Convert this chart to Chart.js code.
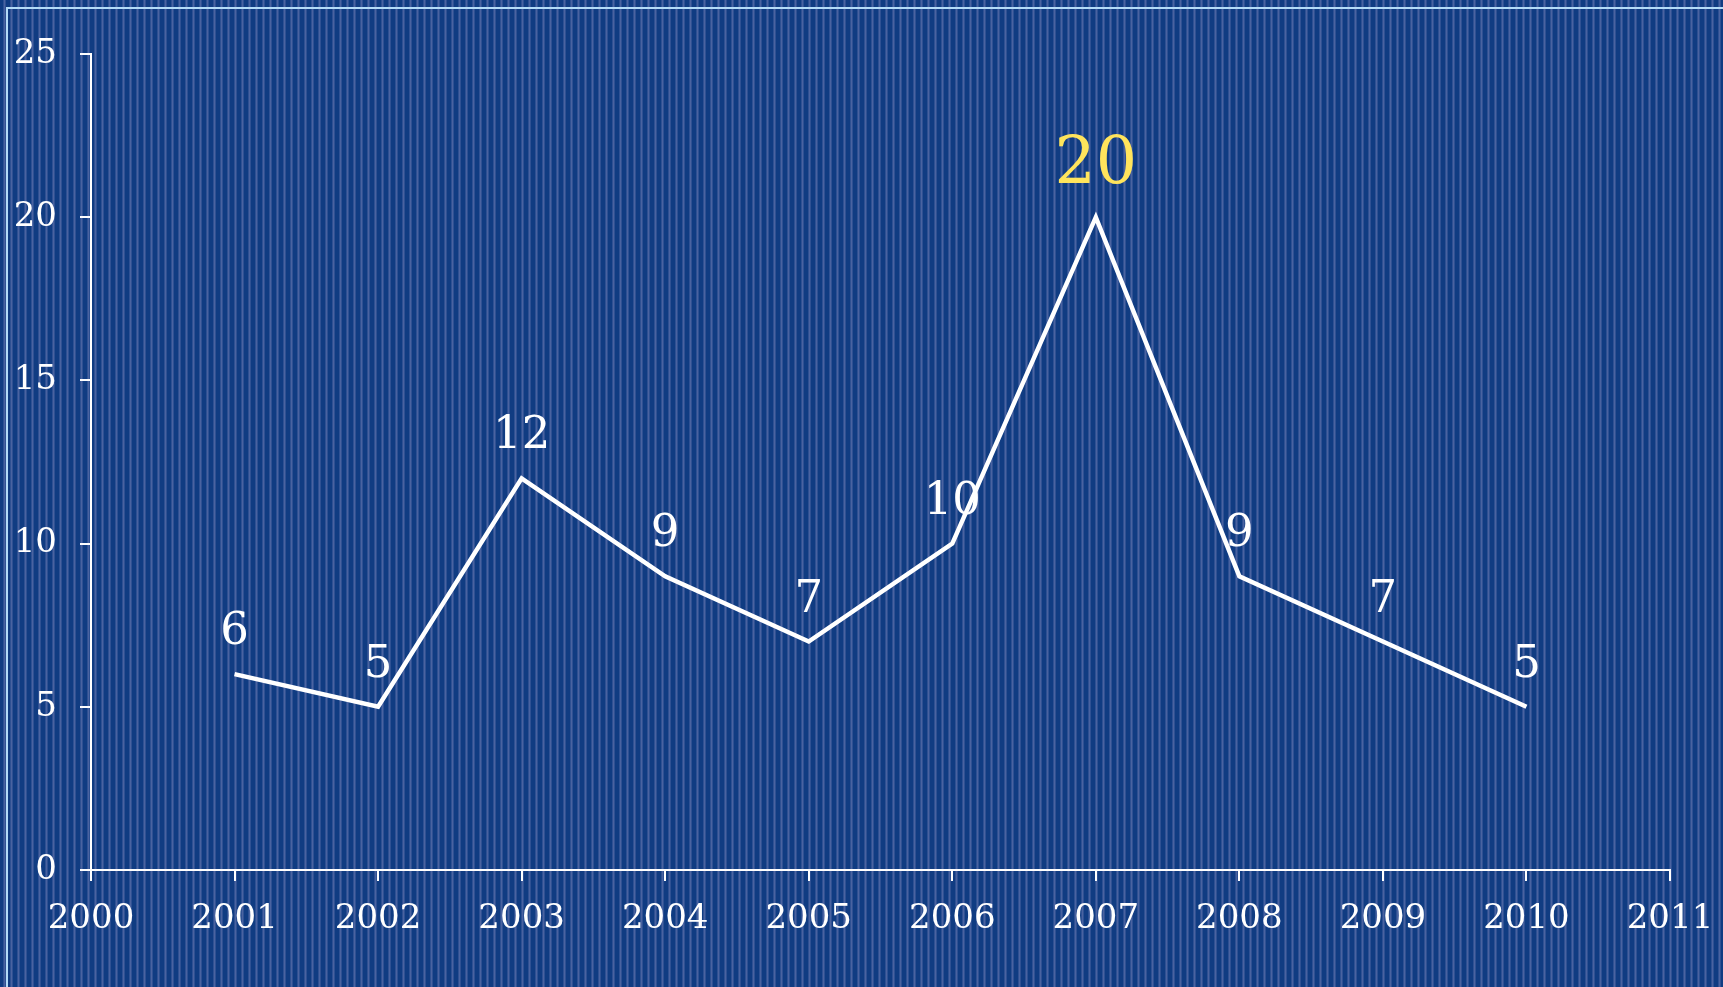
<!DOCTYPE html>
<html>
<head>
<meta charset="utf-8">
<title>Yearly count 2001-2010</title>
<script src="https://cdn.jsdelivr.net/npm/chart.js@4/dist/chart.umd.min.js"></script>
<style>
  html, body {
    margin: 0;
    padding: 0;
    width: 100%;
    height: 100%;
    overflow: hidden;
  }
  body {
    background-color: #123f85;
    background-image: repeating-linear-gradient(90deg,
      #103c82 0px, #103c82 3px,
      #2f5193 3px, #2f5193 4px,
      #4a63a0 4px, #4a63a0 5px,
      #2f5193 5px, #2f5193 6px,
      #103c82 6px, #103c82 7px);
  }
  .frame {
    position: absolute;
    left: 6px;
    top: 7px;
    right: 0;
    bottom: 0;
    border-left: 2px solid #b3dbf7;
    border-top: 2px solid #b3dbf7;
    pointer-events: none;
  }
  .chart-box {
    position: absolute;
    left: 0;
    top: 0;
    width: 1723px;
    height: 987px;
  }
</style>
</head>
<body>
<div class="frame"></div>
<div class="chart-box"><canvas id="chart"></canvas></div>
<script>
// Data
const years = [2001, 2002, 2003, 2004, 2005, 2006, 2007, 2008, 2009, 2010];
const counts = [6, 5, 12, 9, 7, 10, 20, 9, 7, 5];
const highlightYear = 2007;

const xRange = [2000, 2011];
const yRange = [0, 25];

const FONT = '"DejaVu Serif", "Liberation Serif", serif';

// Draws the number above each point
const valueLabels = {
  id: 'valueLabels',
  afterDatasetsDraw(chart) {
    const ctx = chart.ctx;
    const meta = chart.getDatasetMeta(0);
    ctx.save();
    ctx.textAlign = 'center';
    ctx.textBaseline = 'alphabetic';
    meta.data.forEach((pt, i) => {
      const big = years[i] === highlightYear;
      ctx.font = (big ? '65px ' : '45px ') + FONT;
      ctx.fillStyle = big ? '#ffe45c' : '#ffffff';
      ctx.fillText(String(counts[i]), pt.x, pt.y - (big ? 34 : 30));
    });
    ctx.restore();
  }
};

const ctx = document.getElementById('chart').getContext('2d');
const chart = new Chart(ctx, {
  type: 'line',
  data: {
    datasets: [{
      data: years.map((y, i) => ({ x: y, y: counts[i] })),
      borderColor: '#ffffff',
      borderWidth: 4.5,
      borderJoinStyle: 'miter',
      borderCapStyle: 'butt',
      tension: 0,
      pointRadius: 0,
      fill: false
    }]
  },
  options: {
    responsive: true,
    maintainAspectRatio: false,
    animation: false,
    layout: {
      padding: { top: 54, right: 53, left: 0, bottom: 0 }
    },
    plugins: {
      legend: { display: false },
      tooltip: { enabled: false }
    },
    scales: {
      x: {
        type: 'linear',
        min: xRange[0],
        max: xRange[1],
        afterFit: (scale) => {
          scale.height = 117;
          // let the layout padding alone decide where the axis ends
          scale.paddingLeft = 0;
          scale.paddingRight = 0;
        },
        border: { color: '#ffffff', width: 2 },
        grid: {
          drawOnChartArea: false,
          drawTicks: true,
          tickLength: 11,
          color: '#ffffff',
          lineWidth: 2
        },
        ticks: {
          stepSize: 1,
          color: '#ffffff',
          padding: 18,
          maxRotation: 0,
          font: { family: FONT, size: 34 },
          callback: (v) => String(v)
        }
      },
      y: {
        min: yRange[0],
        max: yRange[1],
        afterFit: (scale) => {
          scale.width = 91;
          scale.paddingTop = 0;
          scale.paddingBottom = 0;
        },
        border: { color: '#ffffff', width: 2 },
        grid: {
          drawOnChartArea: false,
          drawTicks: true,
          tickLength: 11,
          color: '#ffffff',
          lineWidth: 2
        },
        ticks: {
          stepSize: 5,
          color: '#ffffff',
          padding: 23,
          font: { family: FONT, size: 34 },
          callback: (v) => String(v)
        }
      }
    }
  },
  plugins: [valueLabels]
});
</script>
</body>
</html>
